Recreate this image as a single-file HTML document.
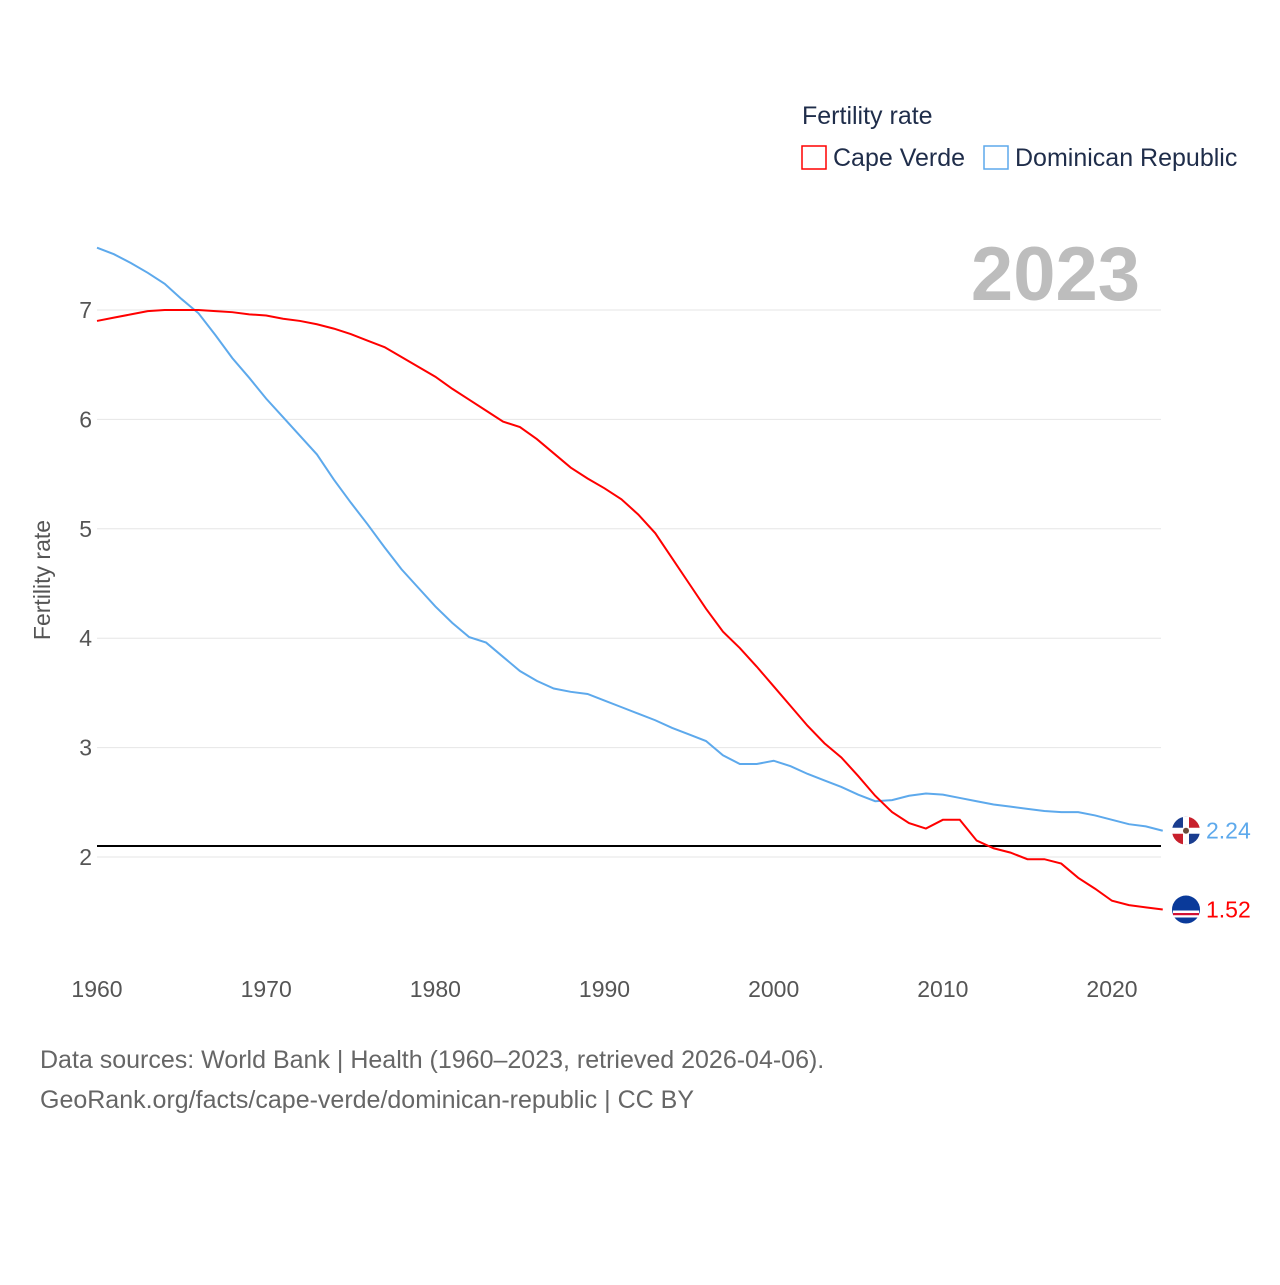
<!DOCTYPE html>
<html><head><meta charset="utf-8">
<style>
body{margin:0;background:#fff;font-family:"Liberation Sans",sans-serif;}
svg text{font-family:"Liberation Sans",sans-serif;}
</style></head>
<body>
<svg id="chart" width="1280" height="1280" viewBox="0 0 1280 1280">
<defs>
<clipPath id="cdr"><circle cx="1186" cy="0" r="14"/></clipPath>
</defs>
<text x="802" y="124" font-size="25" fill="#1f2d4a">Fertility rate</text>
<rect x="802" y="146" width="24" height="23" fill="none" stroke="#ff0000" stroke-width="1.5"/>
<text x="833" y="166" font-size="25" fill="#1f2d4a">Cape Verde</text>
<rect x="984" y="146" width="24" height="23" fill="none" stroke="#5da9ec" stroke-width="1.5"/>
<text x="1015" y="166" font-size="25" fill="#1f2d4a">Dominican Republic</text>
<text x="1140" y="300" font-size="76" font-weight="bold" fill="#bdbdbd" text-anchor="end">2023</text>
<text transform="translate(50,580) rotate(-90)" font-size="23" fill="#555" text-anchor="middle">Fertility rate</text>
<g id="grid"></g><g id="xt"></g><g id="lines"></g>
<text x="40" y="1068" font-size="25" fill="#666">Data sources: World Bank | Health (1960–2023, retrieved 2026-04-06).</text>
<text x="40" y="1108" font-size="25" fill="#666">GeoRank.org/facts/cape-verde/dominican-republic | CC BY</text>
</svg>
<script>
const years=[];for(let y=1960;y<=2023;y++)years.push(y);
const capeVerde=[6.9,6.93,6.96,6.99,7.0,7.0,7.0,6.99,6.98,6.96,6.95,6.92,6.90,6.87,6.83,6.78,6.72,6.66,6.57,6.48,6.39,6.28,6.18,6.08,5.98,5.93,5.82,5.69,5.56,5.46,5.37,5.27,5.13,4.96,4.73,4.50,4.27,4.06,3.91,3.74,3.56,3.38,3.20,3.04,2.91,2.74,2.56,2.41,2.31,2.26,2.34,2.34,2.15,2.08,2.04,1.98,1.98,1.94,1.81,1.71,1.60,1.56,1.54,1.52];
const dominican=[7.57,7.51,7.43,7.34,7.24,7.10,6.97,6.77,6.56,6.38,6.19,6.02,5.85,5.68,5.45,5.24,5.04,4.83,4.63,4.46,4.29,4.14,4.01,3.96,3.83,3.70,3.61,3.54,3.51,3.49,3.43,3.37,3.31,3.25,3.18,3.12,3.06,2.93,2.85,2.85,2.88,2.83,2.76,2.70,2.64,2.57,2.51,2.52,2.56,2.58,2.57,2.54,2.51,2.48,2.46,2.44,2.42,2.41,2.41,2.38,2.34,2.30,2.28,2.24];
const yTicks=[2,3,4,5,6,7];
const xTicks=[1960,1970,1980,1990,2000,2010,2020];
const refLine=[2.1];
const NS='http://www.w3.org/2000/svg';
const xs=y=>97+(y-1960)*(1112-97)/60;
const ys=v=>857-(v-2)*109.4;
function mk(t,a,p){const e=document.createElementNS(NS,t);for(const k in a)e.setAttribute(k,a[k]);p.appendChild(e);return e;}
const g=document.getElementById('grid');
yTicks.forEach(v=>{
 const l=mk('line',{x1:97,x2:1161,y1:ys(v),y2:ys(v),stroke:'#e6e6e6','stroke-width':1},g);
 
 
 const t=mk('text',{x:92,y:ys(v)+8,'font-size':23,fill:'#555','text-anchor':'end'},g);t.textContent=v;
 
 
});
const xt=document.getElementById('xt');
xTicks.forEach(v=>{
 const t=mk('text',{x:xs(v),y:997,'font-size':23,fill:'#555','text-anchor':'middle'},xt);t.textContent=v;
 
 
});
const L=document.getElementById('lines');
const r=mk('line',{x1:97,x2:1161,y1:ys(refLine[0]),y2:ys(refLine[0]),stroke:'#000','stroke-width':2},L);


function flagDR(cy,p){
 const f=mk('g',{},p);
 
 
 mk('circle',{cx:1186,cy:cy,r:14,fill:'#fff'},f);
 mk('path',{d:`M1186 ${cy} L1186 ${cy-14} A14 14 0 0 0 1172 ${cy} Z`,fill:'#1a3d8f'},f);
 mk('path',{d:`M1186 ${cy} L1200 ${cy} A14 14 0 0 0 1186 ${cy-14} Z`,fill:'#c8202c'},f);
 mk('path',{d:`M1186 ${cy} L1172 ${cy} A14 14 0 0 0 1186 ${cy+14} Z`,fill:'#c8202c'},f);
 mk('path',{d:`M1186 ${cy} L1186 ${cy+14} A14 14 0 0 0 1200 ${cy} Z`,fill:'#1a3d8f'},f);
 mk('rect',{x:1183,y:cy-14,width:6,height:28,fill:'#fff'},f);
 mk('rect',{x:1172,y:cy-3,width:28,height:6,fill:'#fff'},f);
 mk('circle',{cx:1186,cy:cy,r:3,fill:'#6a4b3a'},f);
}
function flagCV(cy,p){
 const f=mk('g',{},p);
 
 
 mk('circle',{cx:1186,cy:cy,r:14,fill:'#0a3a9a'},f);
 mk('rect',{x:1173,y:cy+1,width:26,height:7,fill:'#fff'},f);
 mk('rect',{x:1173,y:cy+3.5,width:26,height:2.2,fill:'#d21034'},f);
}
function series(vals,col,name){
 const p=mk('polyline',{points:vals.map((v,i)=>xs(years[i])+','+ys(v)).join(' '),fill:'none',stroke:col,'stroke-width':2},L);
 
 
 const last=vals[vals.length-1],cy=ys(last);
 if(name==='cape-verde')flagCV(cy,L);else flagDR(cy,L);
 const t=mk('text',{x:1206,y:cy+8,'font-size':23,fill:col},L);t.textContent=last.toFixed(2);
 
 
}
series(dominican,'#5da9ec','dominican-republic');
series(capeVerde,'#ff0000','cape-verde');
</script>
</body></html>
